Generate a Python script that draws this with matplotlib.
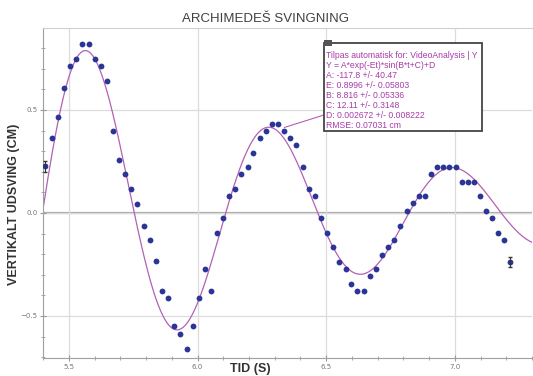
import numpy as np
import matplotlib
matplotlib.use("Agg")
import matplotlib.pyplot as plt
from matplotlib.patches import Rectangle

# ---------------------------
# Datos medidos (tid i s, udsving i cm)
tid = [5.408, 5.433, 5.457, 5.481, 5.505, 5.528, 5.552, 5.576, 5.600, 5.623,
       5.646, 5.671, 5.694, 5.718, 5.741, 5.766, 5.790, 5.814, 5.837, 5.860,
       5.885, 5.910, 5.933, 5.957, 5.981, 6.004, 6.028, 6.052, 6.076, 6.100,
       6.123, 6.146, 6.169, 6.194, 6.217, 6.241, 6.265, 6.290, 6.313, 6.337,
       6.360, 6.384, 6.408, 6.432, 6.456, 6.481, 6.504, 6.527, 6.550, 6.575,
       6.598, 6.621, 6.646, 6.669, 6.694, 6.717, 6.740, 6.765, 6.788, 6.813,
       6.836, 6.860, 6.884, 6.907, 6.931, 6.955, 6.979, 7.003, 7.026, 7.050,
       7.074, 7.097, 7.121, 7.145, 7.168, 7.193, 7.216]
udsving = [0.226, 0.364, 0.468, 0.609, 0.714, 0.748, 0.819, 0.819, 0.748, 0.714,
           0.643, 0.399, 0.258, 0.191, 0.116, 0.045, -0.062, -0.129, -0.235, -0.377,
           -0.412, -0.551, -0.587, -0.658, -0.551, -0.412, -0.271, -0.378, -0.097, -0.026,
           0.082, 0.116, 0.189, 0.221, 0.291, 0.362, 0.397, 0.431, 0.431, 0.397,
           0.362, 0.328, 0.221, 0.116, 0.082, -0.026, -0.097, -0.167, -0.236, -0.271,
           -0.343, -0.378, -0.378, -0.307, -0.271, -0.202, -0.167, -0.129, -0.062, 0.008,
           0.047, 0.082, 0.082, 0.189, 0.223, 0.223, 0.223, 0.223, 0.152, 0.152,
           0.152, 0.082, 0.008, -0.026, -0.097, -0.131, -0.239]

# Parametros del ajuste mostrados en la grafica
A, E, B, C, D = -117.8, 0.8996, 8.816, 12.11, 0.002672
lineas_ajuste = [
    "Tilpas automatisk for: VideoAnalysis | Y",
    "Y = A*exp(-Et)*sin(B*t+C)+D",
    "A: -117.8 +/- 40.47",
    "E: 0.8996 +/- 0.05803",
    "B: 8.816 +/- 0.05336",
    "C: 12.11 +/- 0.3148",
    "D: 0.002672 +/- 0.008222",
    "RMSE: 0.07031 cm",
]

col_punto = "#2a3596"
col_ajuste = "#b460b4"
col_texto = "#a83ca8"
W, H = 533, 376

fig = plt.figure(figsize=(W / 100, H / 100), dpi=100)
ax = fig.add_axes([43 / W, 1 - 358 / H, (532 - 43) / W, (358 - 28) / H])

t = np.linspace(5.399, 7.30, 600)
ax.plot(t, A * np.exp(-E * t) * np.sin(B * t + C) + D, color=col_ajuste, lw=0.9, zorder=2)
ax.plot(tid, udsving, "o", color=col_punto, ms=4.2, mec="none", zorder=3)
# barras de error en el primer y ultimo punto
ax.errorbar([tid[0], tid[-1]], [udsving[0], udsving[-1]], yerr=0.025, fmt="none",
            ecolor="#333333", elinewidth=0.8, capsize=1.2, zorder=4)

ax.axhline(0, color="#a9a9a9", lw=1.6, zorder=1)
ax.set_xlim(5.399, 7.298)
ax.set_ylim(-0.704, 0.898)
ax.set_xticks([5.5, 6.0, 6.5, 7.0])
ax.set_yticks([-0.5, 0.0, 0.5])
ax.set_xticks(np.arange(5.4, 7.31, 0.1), minor=True)
ax.set_yticks(np.arange(-0.7, 0.85, 0.1), minor=True)
ax.grid(True, which="major", color="#dcdcdc", lw=0.9)
ax.tick_params(which="both", direction="inout", color="#999999", labelsize=5,
               labelcolor="#777777", pad=2)
ax.tick_params(which="major", length=4)
ax.tick_params(which="minor", length=3)
for lado in ["left", "bottom"]:
    ax.spines[lado].set_color("#a0a0a0")
ax.spines["top"].set_color("#d0d0d0")
ax.spines["right"].set_visible(False)

fig.text(266 / W, 1 - 19 / H, "ARCHIMEDEŠ SVINGNING", ha="center", va="center",
         fontsize=9.5, color="#404040", family=["Liberation Sans", "DejaVu Sans"])
fig.text(14 / W, 1 - 204 / H, "VERTIKALT UDSVING (CM)", rotation=90, ha="center", va="center",
         fontsize=9, fontweight="bold", color="#333333", family="Liberation Sans")
fig.text(250 / W, 1 - 369 / H, "TID (S)", ha="center", va="center",
         fontsize=9, fontweight="bold", color="#333333", family="Liberation Sans")

# caja del ajuste
ax.annotate("", xy=(6.337, 0.415), xycoords="data", xytext=(324, H - 115),
            textcoords="figure pixels",
            arrowprops=dict(arrowstyle="-", color=col_ajuste, lw=0.8, shrinkA=0, shrinkB=0))
fig.add_artist(Rectangle((324 / W, 1 - 131 / H), 158 / W, 88 / H, transform=fig.transFigure,
                         facecolor="white", edgecolor="#444444", lw=1.3, zorder=5))
fig.add_artist(Rectangle((324 / W, 1 - 46 / H), 8 / W, 6 / H, transform=fig.transFigure,
                         facecolor="#555555", edgecolor="none", zorder=6))
for i, linea in enumerate(lineas_ajuste):
    fig.text(326.5 / W, 1 - (56 + i * 9.9) / H, linea, ha="left", va="center",
             fontsize=6.2, color=col_texto, family="Liberation Sans", zorder=7)

fig.savefig("out.png", dpi=100)
